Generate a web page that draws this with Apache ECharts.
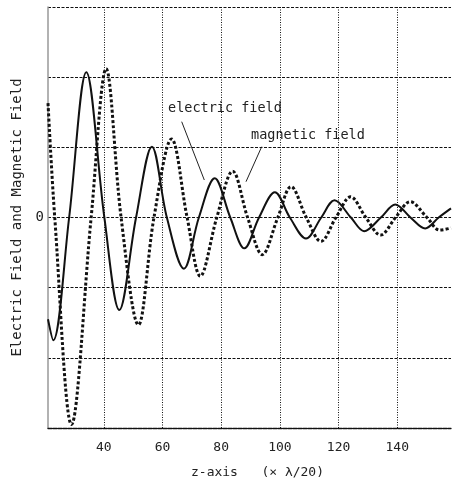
<!DOCTYPE html>
<html>
<head>
<meta charset="utf-8">
<script src="https://cdn.jsdelivr.net/npm/echarts@6/dist/echarts.min.js"></script>
<style>html,body{margin:0;padding:0;background:#fff;}#c{width:454px;height:484px;}</style>
</head>
<body>
<div id="c"></div>
<script>
// Electric field (solid): z position and value
const electricZ = [21, 22.8, 28.2, 34.05, 40.2, 45.3, 51, 56.4, 61.5, 67.3, 72.4, 77.8, 83.1, 87.9, 92.9, 98.3, 103.4, 108.9, 114.1, 118.6, 124.2, 128.7, 134.4, 139.3, 144.5, 149.5, 154.1, 158.3];
const electricV = [-1.45, -1.75, 0, 2.07, 0, -1.32, 0, 1.01, 0, -0.73, 0, 0.56, 0, -0.44, 0, 0.36, 0, -0.30, 0, 0.245, 0, -0.195, 0, 0.185, 0, -0.155, 0, 0.13];
// Magnetic field (dotted)
const magneticZ = [21, 23.3, 29, 35.7, 40.8, 45.9, 51.8, 57.1, 63.1, 68.4, 72.9, 78.5, 83.9, 89, 94, 99.3, 103.8, 109, 114, 119.1, 124.1, 129.3, 134.3, 139.4, 144.4, 150.1, 154.5, 158.3];
const magneticV = [1.63, 0, -2.95, 0, 2.12, 0, -1.53, 0, 1.12, 0, -0.835, 0, 0.66, 0, -0.53, 0, 0.44, 0, -0.34, 0, 0.295, 0, -0.25, 0, 0.225, 0, -0.18, -0.15];
const xTickLabels = [40, 60, 80, 100, 120, 140];
const yTickLabels = [0];
const labelElectric = 'electric field';
const labelMagnetic = 'magnetic field';
const xName = 'z-axis   (× λ/20)';
const yName = 'Electric Field and Magnetic Field';

const mono = 'DejaVu Sans Mono';
const chart = echarts.init(document.getElementById('c'), null, {renderer: 'canvas'});
const pair = (zs, vs) => zs.map((z, i) => [z, vs[i]]);

chart.setOption({
  animation: false,
  backgroundColor: '#fff',
  grid: {left: 48, right: 0, top: 7, bottom: 52, containLabel: false},
  xAxis: {
    type: 'value', min: 21, max: 158.3, splitNumber: 7, minInterval: 20, maxInterval: 20,
    name: xName, nameLocation: 'middle', nameGap: 38,
    nameTextStyle: {fontFamily: mono, fontSize: 13, color: '#222', padding: [0, 0, 0, 16]},
    axisLine: {show: true, onZero: false, lineStyle: {color: '#111', width: 1.3, type: [4, 1]}},
    axisTick: {show: false},
    axisLabel: {fontFamily: mono, fontSize: 13, color: '#222', margin: 13,
      formatter: v => xTickLabels.indexOf(Math.round(v)) >= 0 && Math.abs(v - Math.round(v)) < 1e-6 ? String(v) : ''},
    splitLine: {show: false}
  },
  yAxis: {
    type: 'value', min: -3, max: 3, interval: 1,
    name: yName, nameLocation: 'middle', nameGap: 23, nameRotate: 90,
    nameTextStyle: {fontFamily: mono, fontSize: 14, color: '#222'},
    axisLine: {show: true, lineStyle: {color: '#999', width: 1.5}},
    axisTick: {show: false},
    axisLabel: {fontFamily: mono, fontSize: 14, color: '#222', margin: 4,
      formatter: v => yTickLabels.indexOf(v) >= 0 ? String(v) : ''},
    splitLine: {show: true, lineStyle: {color: '#111', width: 1, type: [3, 1.5]}}
  },
  series: [
    {
      name: 'grid', type: 'line', data: [], z: 1, silent: true,
      markLine: {
        silent: true, symbol: ['none', 'none'], label: {show: false},
        lineStyle: {color: '#111', width: 1, type: [1, 1.5]},
        data: xTickLabels.map(v => ({xAxis: v}))
      }
    },
    {
      name: labelElectric, type: 'line', data: pair(electricZ, electricV),
      smooth: 0.35, showSymbol: false, clip: true,
      lineStyle: {color: '#111', width: 2}
    },
    {
      name: labelMagnetic, type: 'line', data: pair(magneticZ, magneticV),
      smooth: 0.35, showSymbol: false, clip: true,
      lineStyle: {color: '#111', width: 3, type: [3, 2.2], cap: 'butt'}
    }
  ],
  graphic: [
    {type: 'text', left: 168, top: 101, style: {text: labelElectric, font: '13.5px "DejaVu Sans Mono"', fill: '#222'}},
    {type: 'text', left: 251, top: 128, style: {text: labelMagnetic, font: '13.5px "DejaVu Sans Mono"', fill: '#222'}},
    {type: 'line', shape: {x1: 181.7, y1: 121.7, x2: 204.3, y2: 180}, style: {stroke: '#222', lineWidth: 1}},
    {type: 'line', shape: {x1: 261.7, y1: 146.7, x2: 246, y2: 181.7}, style: {stroke: '#222', lineWidth: 1}}
  ]
});
</script>
</body>
</html>
